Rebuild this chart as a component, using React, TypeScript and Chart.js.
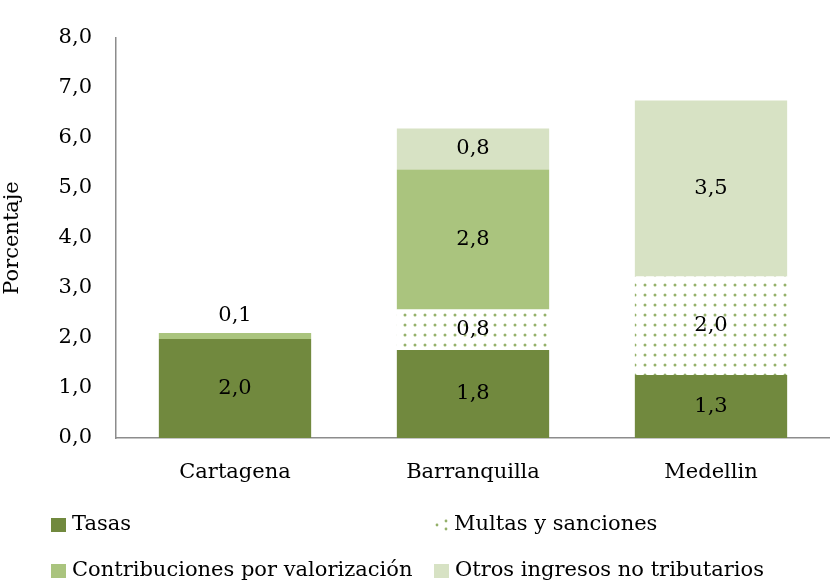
import React, { useEffect, useRef } from "react";
import { Chart, registerables } from "chart.js";

Chart.register(...registerables);

const categories = ["Cartagena", "Barranquilla", "Medellin"];
const tasas = [1.98, 1.76, 1.26];
const multas = [0, 0.81, 1.97];
const contribuciones = [0.12, 2.8, 0];
const otros = [0, 0.82, 3.52];
const seriesNames = [
  "Tasas",
  "Multas y sanciones",
  "Contribuciones por valorización",
  "Otros ingresos no tributarios",
];
const yTicks = [0, 1, 2, 3, 4, 5, 6, 7, 8];

const FONT = "'DejaVu Serif', serif";
const FS = 21;
const C_TASAS = "#71893e";
const C_CONTRIB = "#aac47e";
const C_OTROS = "#d7e2c4";
const C_DOT = "#94b06a";

function makeDots(): CanvasPattern | string {
  const c = document.createElement("canvas");
  c.width = 10;
  c.height = 10;
  const ctx = c.getContext("2d");
  if (!ctx) return "#fff";
  ctx.fillStyle = "#ffffff";
  ctx.fillRect(0, 0, 10, 10);
  ctx.fillStyle = C_DOT;
  ctx.beginPath();
  ctx.arc(5, 5, 1.5, 0, Math.PI * 2);
  ctx.fill();
  return ctx.createPattern(c, "repeat") || "#fff";
}

const fmt = (v: number) => v.toFixed(1).replace(".", ",");

export default function App() {
  const ref = useRef<HTMLCanvasElement | null>(null);
  useEffect(() => {
    if (!ref.current) return;
    const dots = makeDots();
    const colors: any[] = [C_TASAS, dots, C_CONTRIB, C_OTROS];

    const labelPlugin = {
      id: "segLabels",
      afterDatasetsDraw(chart: any) {
        const ctx = chart.ctx;
        ctx.save();
        ctx.font = `${FS}px ${FONT}`;
        ctx.fillStyle = "#000";
        ctx.textAlign = "center";
        ctx.textBaseline = "middle";
        chart.data.datasets.forEach((ds: any, di: number) => {
          const meta = chart.getDatasetMeta(di);
          meta.data.forEach((bar: any, i: number) => {
            const v = ds.data[i];
            if (!v) return;
            const h = Math.abs(bar.base - bar.y);
            const y = h < 16 ? bar.y - 17 : (bar.y + bar.base) / 2;
            ctx.fillText(fmt(v), bar.x, y);
          });
        });
        ctx.restore();
      },
    };

    const legendPlugin = {
      id: "customLegend",
      afterDraw(chart: any) {
        const ctx = chart.ctx;
        ctx.save();
        ctx.font = `${FS}px ${FONT}`;
        ctx.fillStyle = "#000";
        ctx.textBaseline = "middle";
        ctx.textAlign = "left";
        const items = [
          { bx: 51, by: 518, tx: 72, ty: 525, c: colors[0], name: seriesNames[0] },
          { bx: 436, by: 518, tx: 454, ty: 525, c: colors[1], name: seriesNames[1], dots: true },
          { bx: 51, by: 564, tx: 72, ty: 571, c: colors[2], name: seriesNames[2] },
          { bx: 434, by: 564, tx: 455, ty: 571, c: colors[3], name: seriesNames[3] },
        ];
        items.forEach((it) => {
          if (it.dots) {
            ctx.fillStyle = C_DOT;
            [[437, 525], [446, 521], [446, 529]].forEach(([x, y]) => {
              ctx.beginPath();
              ctx.arc(x, y, 1.4, 0, Math.PI * 2);
              ctx.fill();
            });
          } else {
            ctx.fillStyle = it.c;
            ctx.fillRect(it.bx, it.by, 15, 14);
          }
          ctx.fillStyle = "#000";
          ctx.fillText(it.name, it.tx, it.ty);
        });
        ctx.restore();
      },
    };

    const chart = new Chart(ref.current, {
      type: "bar",
      data: {
        labels: categories,
        datasets: [tasas, multas, contribuciones, otros].map((d, i) => ({
          label: seriesNames[i],
          data: d,
          backgroundColor: colors[i],
          borderWidth: 0,
          barPercentage: 0.64,
          categoryPercentage: 1,
        })),
      },
      options: {
        animation: false,
        responsive: false,
        maintainAspectRatio: false,
        layout: { padding: { top: 38, right: 0, left: 0, bottom: 0 } },
        plugins: {
          legend: { display: false },
          tooltip: { enabled: false },
        },
        scales: {
          x: {
            stacked: true,
            grid: { display: false, drawTicks: false },
            border: { display: true, color: "#8c8c8c", width: 1.5 },
            ticks: {
              padding: 22,
              color: "#000",
              font: { family: FONT, size: FS },
            },
            afterFit(scale: any) {
              scale.height = 150;
            },
          },
          y: {
            stacked: true,
            min: 0,
            max: 8,
            afterBuildTicks(scale: any) {
              scale.ticks = yTicks.map((v) => ({ value: v }));
            },
            grid: { display: false, drawTicks: false },
            border: { display: true, color: "#8c8c8c", width: 1.5 },
            ticks: {
              padding: 24,
              color: "#000",
              font: { family: FONT, size: FS },
              callback: (v: any) => fmt(Number(v)),
            },
            title: {
              display: true,
              text: "Porcentaje",
              color: "#000",
              font: { family: FONT, size: FS },
              padding: { top: 0, bottom: 0 },
            },
            afterFit(scale: any) {
              scale.width = 116;
            },
          },
        },
      },
      plugins: [labelPlugin, legendPlugin],
    });
    return () => chart.destroy();
  }, []);

  return (
    <div style={{ position: "fixed", left: 0, top: 0, width: 830, height: 588, background: "#fff" }}>
      <canvas ref={ref} width={830} height={588} style={{ width: 830, height: 588 }} />
    </div>
  );
}
